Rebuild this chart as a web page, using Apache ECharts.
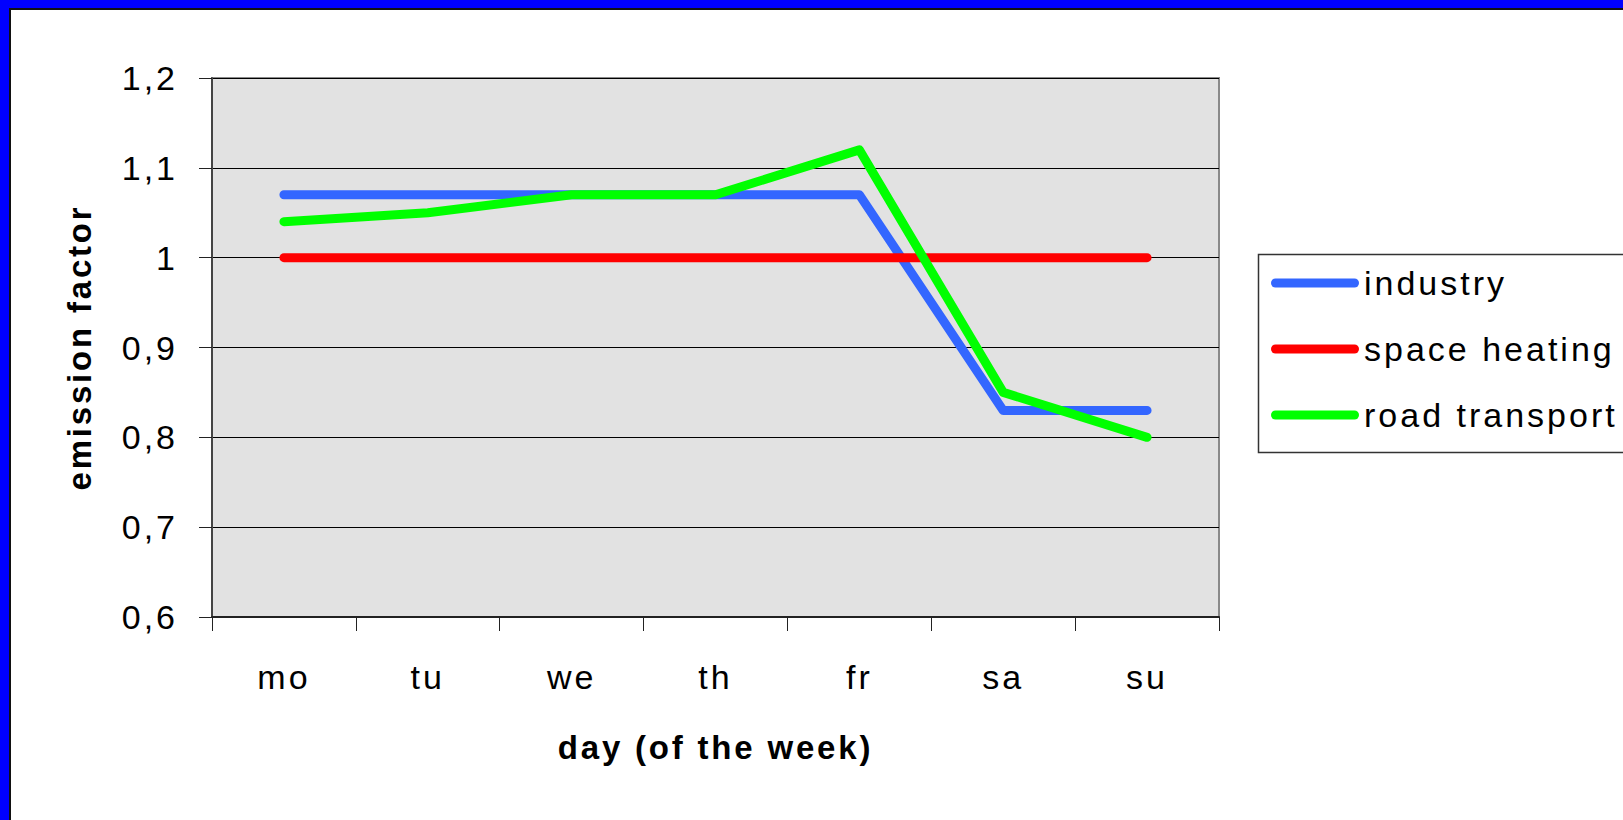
<!DOCTYPE html>
<html>
<head>
<meta charset="utf-8">
<script src="https://cdn.jsdelivr.net/npm/echarts@6/dist/echarts.min.js"></script>
<style>
html,body{margin:0;padding:0;background:#fff;}
#chart{width:1623px;height:820px;}
#chart text{letter-spacing:3px;}
#chart text[style*="bold"]{letter-spacing:2.8px;}
</style>
</head>
<body>
<div id="chart"></div>
<script>
const categories = ['mo', 'tu', 'we', 'th', 'fr', 'sa', 'su'];
const industry = [1.07, 1.07, 1.07, 1.07, 1.07, 0.83, 0.83];
const spaceHeating = [1.0, 1.0, 1.0, 1.0, 1.0, 1.0, 1.0];
const roadTransport = [1.04, 1.05, 1.07, 1.07, 1.12, 0.85, 0.80];
const seriesNames = ['industry', 'space heating', 'road transport'];
const yTickLabels = ['0,6', '0,7', '0,8', '0,9', '1', '1,1', '1,2'];
const yMin = 0.6, yMax = 1.2, yStep = 0.1;

const FONT = '"Liberation Sans", Arial, sans-serif';
const chart = echarts.init(document.getElementById('chart'), null, {renderer: 'svg'});

const capsule = 'path://M4.5,0 L83.5,0 A4.5,4.5 0 0 1 83.5,9 L4.5,9 A4.5,4.5 0 0 1 4.5,0 Z';

function mkSeries(name, data, color) {
  return {
    name: name, type: 'line', data: data, symbol: 'none',
    lineStyle: {color: color, width: 9, cap: 'round', join: 'round'},
    itemStyle: {color: color},
    emphasis: {disabled: true},
    animation: false
  };
}

chart.setOption({
  backgroundColor: '#ffffff',
  animation: false,
  grid: {
    left: 212, top: 78, right: 404, bottom: 203,
    show: true, backgroundColor: '#e2e2e2', borderColor: '#8a8a8a', borderWidth: 2
  },
  legend: {
    orient: 'vertical', left: 1266, top: 261,
    itemWidth: 88, itemHeight: 9, itemGap: 32,
    icon: capsule,
    textStyle: {fontFamily: FONT, fontSize: 34, lineHeight: 34, color: '#000'},
    data: seriesNames
  },
  xAxis: {
    type: 'category', data: categories, boundaryGap: true,
    axisLine: {show: true, lineStyle: {color: '#222', width: 2}},
    axisTick: {show: true, length: 14, lineStyle: {color: '#222', width: 1}},
    axisLabel: {fontFamily: FONT, fontSize: 34, color: '#000', margin: 43},
    name: 'day (of the week)', nameLocation: 'middle', nameGap: 114,
    nameTextStyle: {fontFamily: FONT, fontSize: 33, fontWeight: 'bold', color: '#000'},
    splitLine: {show: false}
  },
  yAxis: {
    type: 'value', min: yMin, max: yMax, interval: yStep,
    axisLine: {show: true, lineStyle: {color: '#444', width: 2}},
    axisTick: {show: true, length: 13, lineStyle: {color: '#222', width: 1}},
    axisLabel: {
      fontFamily: FONT, fontSize: 34, color: '#000', margin: 34,
      formatter: function (v) { return yTickLabels[Math.round((v - yMin) / yStep)]; }
    },
    splitLine: {show: true, lineStyle: {color: '#000', width: 1}},
    name: 'emission factor', nameLocation: 'middle', nameGap: 116, nameRotate: 90,
    nameTextStyle: {fontFamily: FONT, fontSize: 33, fontWeight: 'bold', color: '#000'}
  },
  graphic: [
    {type: 'rect', left: 1256, top: 252, shape: {width: 420, height: 198},
     style: {fill: 'none', stroke: '#333', lineWidth: 1.5}, z: 0, silent: true},
    {type: 'rect', left: 0, top: 0, shape: {width: 1623, height: 8}, style: {fill: '#0000ff'}, z: 100, silent: true},
    {type: 'rect', left: 0, top: 0, shape: {width: 9, height: 820}, style: {fill: '#0000ff'}, z: 100, silent: true},
    {type: 'rect', left: 9, top: 8, shape: {width: 1614, height: 2}, style: {fill: '#111'}, z: 100, silent: true},
    {type: 'rect', left: 9, top: 8, shape: {width: 2, height: 812}, style: {fill: '#111'}, z: 100, silent: true}
  ],
  series: [
    mkSeries(seriesNames[0], industry, '#3366ff'),
    mkSeries(seriesNames[1], spaceHeating, '#ff0000'),
    mkSeries(seriesNames[2], roadTransport, '#00ff00')
  ]
});
</script>
</body>
</html>
